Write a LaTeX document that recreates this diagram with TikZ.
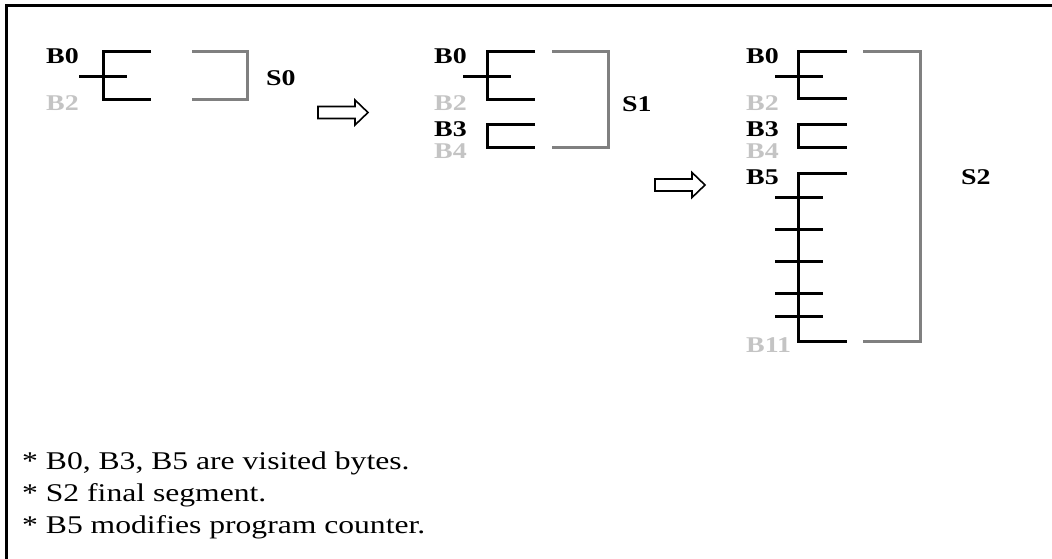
\documentclass[tikz,border=0pt]{standalone}
\usepackage{fontspec}
\setmainfont{Liberation Serif}
\definecolor{segGray}{HTML}{808080}
\definecolor{skipGray}{HTML}{C4C4C4}
% horizontally widened lettering
\newcommand{\wide}[1]{\scalebox{1.24}[1]{#1}}
\tikzset{
  lbl/.style={font=\fontsize{22.5}{27}\selectfont\bfseries, inner sep=0pt, anchor=base west},
  visited/.style={lbl, text=black},
  skipped/.style={lbl, text=skipGray},
  note/.style={font=\fontsize{25.5}{30}\selectfont, inner sep=0pt, anchor=base west},
  code/.style={line width=3pt, black, line cap=butt, line join=miter},
  seg/.style={line width=3pt, segGray, line cap=butt, line join=miter},
  pics/hollowarrow/.style={code={
    \draw[line width=1.6pt, fill=white, line join=miter]
      (0,-6) -- (37,-6) -- (37,-12.5) -- (50,0) -- (37,12.5) -- (37,6) -- (0,6) -- cycle;}}
}
\begin{document}
\begin{tikzpicture}[x=1pt,y=-1pt]
\useasboundingbox (0,0) rectangle (1052,559);
% frame
\draw[line width=3pt, line join=miter] (6,559) -- (6,6) -- (1052,6);

% ---- stage 0 ----
\node[visited] (a0) at (46,64) {\wide{B0}};
\node[skipped] (a2) at (46,111) {\wide{B2}};
\draw[code] (151,52) -- (103,52) -- (103,100) -- (151,100);
\draw[code] (79,77) -- (127,77);
\draw[seg] (192,52) -- (247,52) -- (247,100) -- (192,100);
\node[lbl] (s0) at (266,86) {\wide{S0}};

\pic at (318,112.5) {hollowarrow};

% ---- stage 1 ----
\node[visited] (b0) at (434,64) {\wide{B0}};
\node[skipped] (b2) at (434,111) {\wide{B2}};
\node[visited] (b3) at (434,136) {\wide{B3}};
\node[skipped] (b4) at (434,159) {\wide{B4}};
\draw[code] (535,52) -- (487,52) -- (487,100) -- (535,100);
\draw[code] (463,77) -- (511,77);
\draw[code] (535,125) -- (487,125) -- (487,148) -- (535,148);
\draw[seg] (552,52) -- (608,52) -- (608,148) -- (552,148);
\node[lbl] (s1) at (622,112) {\wide{S1}};

\pic at (655,185) {hollowarrow};

% ---- stage 2 ----
\node[visited] (c0) at (746,64) {\wide{B0}};
\node[skipped] (c2) at (746,111) {\wide{B2}};
\node[visited] (c3) at (746,136) {\wide{B3}};
\node[skipped] (c4) at (746,159) {\wide{B4}};
\node[visited] (c5) at (746,184) {\wide{B5}};
\node[skipped] (c11) at (746,352) {\wide{B11}};
\draw[code] (847,52) -- (798,52) -- (798,99) -- (847,99);
\draw[code] (775,77) -- (823,77);
\draw[code] (847,125) -- (798,125) -- (798,148) -- (847,148);
\draw[code] (847,173) -- (798,173) -- (798,341) -- (847,341);
\foreach \t in {197,229,261,293,316}
  \draw[code] (775,\t) -- (823,\t);
\draw[seg] (863,52) -- (920,52) -- (920,341) -- (863,341);
\node[lbl] (s2) at (961,184) {\wide{S2}};

% ---- notes ----
\node[note] (n1) at (22,469) {\wide{* B0, B3, B5 are visited bytes.}};
\node[note] (n2) at (22,501) {\wide{* S2 final segment.}};
\node[note] (n3) at (22,533) {\wide{* B5 modifies program counter.}};
\end{tikzpicture}
\end{document}
